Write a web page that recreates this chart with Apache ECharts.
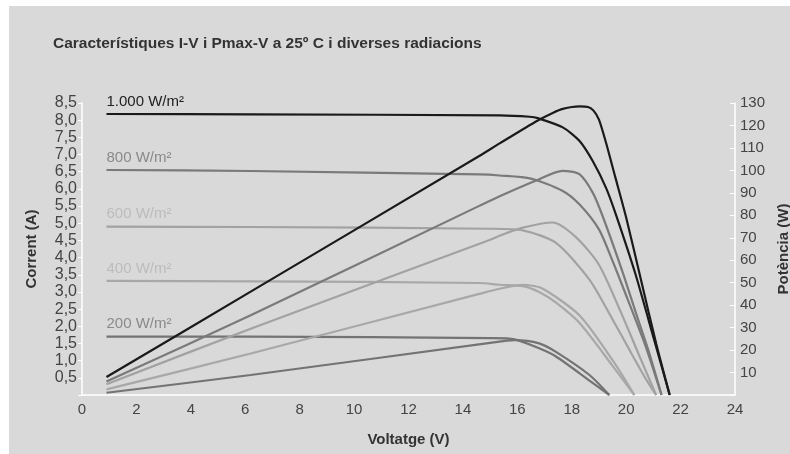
<!DOCTYPE html>
<html>
<head>
<meta charset="utf-8">
<script src="https://cdn.jsdelivr.net/npm/echarts@6/dist/echarts.min.js"></script>
<style>
html,body{margin:0;padding:0;background:#fff;}
#chart{position:absolute;left:0;top:0;width:790px;height:454px;
background:linear-gradient(#d9d9d9,#d9d9d9) 9px 6px / 781px 448px no-repeat,#fff;}
</style>
</head>
<body>
<div id="chart"></div>
<script>
// ---- data (voltage V, value) ----
const titleText = 'Característiques I-V i Pmax-V a 25º C i diverses radiacions';
const irradianceLabels = ['1.000 W/m²', '800 W/m²', '600 W/m²', '400 W/m²', '200 W/m²'];

const iv1000 = [[0.9,8.18],[6.2,8.17],[15.35,8.14],[16.45,8.1],[16.75,8.06],[17.67,7.79],[18.28,7.4],[18.77,6.81],[19.26,6.03],[19.62,5.26],[20.33,3.55],[21.03,1.6],[21.6,0]];
const pw1000 = [[0.9,8.0],[6.2,46.0],[14.6,106.4],[15.35,112.0],[16.75,122.2],[17.3,125.6],[17.67,127.4],[18.28,128.5],[18.6,128.2],[18.8,126.6],[19.0,122.6],[19.26,112.3],[19.6,97],[20.0,79],[20.55,51],[21.1,23],[21.6,0]];

const iv800 = [[0.9,6.55],[6.2,6.52],[14.6,6.42],[15.35,6.39],[16.5,6.3],[17.67,5.94],[18.28,5.55],[19.0,4.82],[19.5,3.9],[19.9,3.1],[20.7,1.45],[21.3,0]];
const pw800 = [[0.9,6.0],[6.2,35.5],[14.6,84.2],[15.35,88.5],[16.65,95.3],[17.67,99.8],[18.28,98.3],[18.77,90.1],[19.13,79.8],[19.85,55.4],[20.4,35],[20.84,19],[21.3,0]];

const iv600 = [[0.9,4.9],[6.2,4.89],[14.98,4.84],[16.2,4.79],[17.42,4.43],[18.65,3.36],[19.5,2.2],[20.2,1.2],[20.7,0.5],[21.1,0]];
const pw600 = [[0.9,4.8],[6.2,29.5],[14.98,69.0],[15.35,70.9],[16.2,74.5],[17.3,76.8],[18.16,70.2],[19.0,58],[19.8,37],[20.5,17],[21.1,0]];

const iv400 = [[0.9,3.32],[6.2,3.31],[14.6,3.26],[15.35,3.21],[16.2,3.17],[16.8,3.0],[17.4,2.7],[18.28,2.1],[19.5,0.85],[20.3,0]];
const pw400 = [[0.9,2.5],[6.2,18.5],[14.6,45.0],[15.35,47.3],[16.2,49.0],[16.9,47.5],[18.28,35.5],[19.5,15.5],[20.3,0]];

const iv200 = [[0.9,1.70],[6.2,1.70],[15.0,1.655],[15.9,1.62],[16.8,1.36],[17.42,1.12],[18.65,0.42],[19.38,0]];
const pw200 = [[0.9,1.0],[6.2,8.9],[15.0,23.2],[15.9,24.4],[16.8,23.0],[17.42,19.2],[18.65,8.9],[19.38,0]];

const xTickLabels = ['0','2','4','6','8','10','12','14','16','18','20','22','24'];
const currentTickLabels = ['','0,5','1,0','1,5','2,0','2,5','3,0','3,5','4,0','4,5','5,0','5,5','6,0','6,5','7,0','7,5','8,0','8,5'];
const powerTickLabels = ['','10','20','30','40','50','60','70','80','90','100','110','120','130'];

// ---- styles ----
const lineColors = ['#1a1a1a', '#7a7a7a', '#a2a2a2', '#a8a8a8', '#737373'];
const labelColors = ['#222222', '#8a8a8a', '#bcbcbc', '#bcbcbc', '#8a8a8a'];
const ivSets = [iv1000, iv800, iv600, iv400, iv200];
const pwSets = [pw1000, pw800, pw600, pw400, pw200];
const FONT = 'Liberation Sans, Arial, Helvetica, sans-serif';

const series = [];
for (let k = ivSets.length - 1; k >= 0; k--) {
  const ivData = ivSets[k].map((p, i) => i === 0 ? {
    value: p,
    label: {show: true, position: 'top', align: 'left', distance: 5,
      formatter: irradianceLabels[k], color: labelColors[k], fontSize: 15, fontFamily: FONT}
  } : p);
  series.push({
    type: 'line', yAxisIndex: 0, data: ivData, showSymbol: true, showAllSymbol: true,
    symbol: 'circle', symbolSize: 0.01,
    smooth: 0.25, clip: false, z: 10 - k,
    label: {show: false},
    emphasis: {disabled: true},
    lineStyle: {color: lineColors[k], width: 2.2}, itemStyle: {color: 'rgba(0,0,0,0)'}
  });
  series.push({
    type: 'line', yAxisIndex: 1, data: pwSets[k], showSymbol: false, symbol: 'none',
    smooth: 0.25, clip: false, z: 10 - k,
    lineStyle: {color: lineColors[k], width: 2.2}, itemStyle: {color: lineColors[k]}
  });
}

const chart = echarts.init(document.getElementById('chart'), null, {renderer: 'canvas'});
chart.setOption({
  backgroundColor: 'transparent',
  animation: false,
  title: {
    text: titleText, left: 53, top: 36, padding: 0,
    textStyle: {fontFamily: FONT, fontSize: 15.5, fontWeight: 'bold', color: '#333'}
  },
  grid: {left: 82, right: 55, top: 103, bottom: 59, containLabel: false, outerBoundsMode: 'none'},
  xAxis: {
    type: 'value', min: 0, max: 24, interval: 2,
    name: 'Voltatge (V)', nameLocation: 'middle', nameGap: 37,
    nameTextStyle: {fontFamily: FONT, fontSize: 15, fontWeight: 'bold', color: '#333'},
    axisLine: {show: true, lineStyle: {color: '#ffffff', width: 1.5}},
    axisTick: {show: false},
    splitLine: {show: false},
    axisLabel: {margin: 7, fontFamily: FONT, fontSize: 15, color: '#444',
      formatter: v => xTickLabels[Math.round(v / 2)]}
  },
  yAxis: [{
    type: 'value', min: 0, max: 8.5, interval: 0.5, position: 'left',
    name: 'Corrent (A)', nameLocation: 'middle', nameGap: 43, nameRotate: 90,
    nameTextStyle: {fontFamily: FONT, fontSize: 15, fontWeight: 'bold', color: '#333'},
    axisLine: {show: true, lineStyle: {color: '#ffffff', width: 1.5}},
    axisTick: {show: true, length: 4, lineStyle: {color: '#ffffff', width: 1}},
    splitLine: {show: false},
    axisLabel: {margin: 5, fontFamily: FONT, fontSize: 16, color: '#444',
      formatter: v => currentTickLabels[Math.round(v * 2)]}
  }, {
    type: 'value', min: 0, max: 130, interval: 10, position: 'right',
    name: 'Potència (W)', nameLocation: 'middle', nameGap: 39, nameRotate: 90,
    nameTextStyle: {fontFamily: FONT, fontSize: 15, fontWeight: 'bold', color: '#333'},
    axisLine: {show: true, lineStyle: {color: '#ffffff', width: 1.5}},
    axisTick: {show: true, inside: true, length: 5, lineStyle: {color: '#ffffff', width: 1}},
    splitLine: {show: false},
    axisLabel: {margin: 5, fontFamily: FONT, fontSize: 15, color: '#444',
      formatter: v => powerTickLabels[Math.round(v / 10)]}
  }],
  series: series
});
</script>
</body>
</html>
